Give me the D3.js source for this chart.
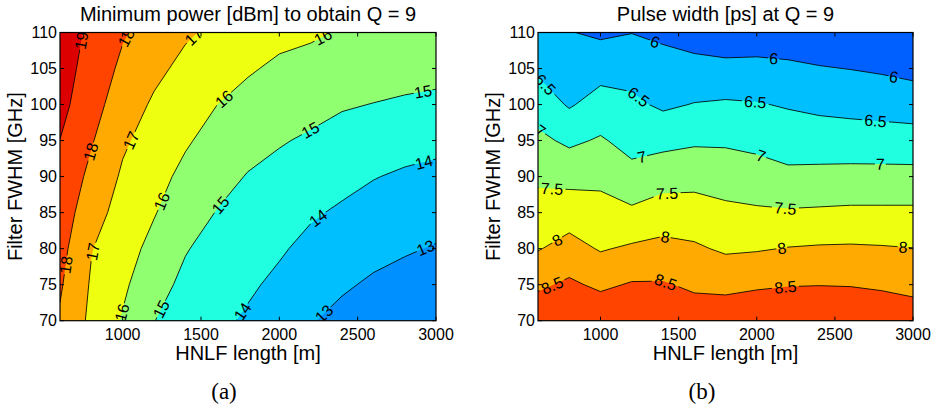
<!DOCTYPE html>
<html><head><meta charset="utf-8">
<script src="https://cdn.jsdelivr.net/npm/d3@7"></script>
<style>
body{margin:0;background:#fff;}
svg text{font-family:"Liberation Sans",Arial,Helvetica,sans-serif;fill:#000;}
</style></head><body>
<svg id="chart" width="940" height="411"></svg>
<script>
// ---------- data ----------
const lengths = [600,800,1000,1200,1400,1600,1800,2000,2200,2400,2600,2800,3000]; // HNLF length [m]
const fwhm = [70,75,80,85,90,95,100,105,110]; // filter FWHM [GHz]

const powerLevels = [13,14,15,16,17,18,19];
const powerColors = ["#0090ff","#00bfff","#20ffdf","#90ff70","#efff10","#ffaa00","#ff4400","#dd0000"];
// rows: FWHM 70 .. 110, columns: lengths
const powerGrid = [
 [17.89,16.79,15.92,15.02,14.55,14.22,13.87,13.48,13.06,12.74,12.48,12.30,12.12],
 [18.11,16.90,16.17,15.36,14.78,14.40,14.14,13.80,13.41,13.12,12.87,12.69,12.53],
 [18.33,17.04,16.40,15.72,15.06,14.66,14.41,14.11,13.75,13.50,13.26,13.09,12.94],
 [18.55,17.40,16.63,16.06,15.41,14.97,14.68,14.43,14.11,13.87,13.64,13.48,13.35],
 [18.77,17.75,16.87,16.33,15.76,15.31,14.95,14.74,14.50,14.27,14.04,13.87,13.77],
 [18.99,18.08,17.14,16.61,16.11,15.66,15.31,15.07,14.88,14.67,14.51,14.36,14.24],
 [19.28,18.40,17.46,16.88,16.44,16.01,15.69,15.45,15.28,15.08,14.98,14.88,14.80],
 [19.39,18.65,17.79,17.21,16.78,16.42,16.10,15.83,15.69,15.49,15.40,15.33,15.27],
 [19.52,18.80,18.10,17.59,17.11,16.83,16.61,16.25,16.13,15.93,15.80,15.74,15.68]
];

const widthLevels = [6,6.5,7,7.5,8,8.5];
const widthColors = ["#0060ff","#00bfff","#20ffdf","#90ff70","#efff10","#ffaa00","#ff4400"];
const widthGrid = [
 [8.85,8.90,8.88,8.95,8.94,8.77,8.80,8.85,8.85,8.86,8.85,8.80,8.75],
 [8.42,8.58,8.41,8.54,8.54,8.42,8.38,8.44,8.48,8.49,8.48,8.44,8.37],
 [7.97,8.18,7.96,8.07,8.14,8.07,7.93,7.96,8.02,8.05,8.06,8.04,8.01],
 [7.70,7.77,7.68,7.59,7.73,7.71,7.61,7.57,7.55,7.57,7.59,7.59,7.59],
 [7.41,7.35,7.38,7.15,7.30,7.34,7.28,7.21,7.11,7.13,7.15,7.15,7.15],
 [7.11,6.91,7.05,6.84,6.86,6.93,6.93,6.87,6.77,6.75,6.73,6.72,6.70],
 [6.77,6.45,6.70,6.60,6.42,6.52,6.56,6.53,6.46,6.39,6.35,6.31,6.27],
 [6.42,6.24,6.32,6.32,6.18,6.15,6.13,6.13,6.09,6.03,5.99,5.94,5.86],
 [6.07,6.02,5.92,5.99,5.91,5.79,5.69,5.73,5.72,5.67,5.63,5.56,5.46]
];

// contour label anchors (value, approx. length, approx. FWHM)
const powerLabels = [
 {v:19,x:760,y:108.8},{v:18,x:1030,y:109.2},{v:17,x:1451,y:109.5},{v:16,x:2281,y:109.3},
 {v:16,x:1642,y:100.9},{v:17,x:1047,y:95.1},{v:18,x:791,y:93.5},{v:15,x:2919,y:101.6},
 {v:15,x:2196,y:96.5},{v:14,x:2919,y:92.3},{v:16,x:1259,y:86.5},{v:15,x:1621,y:86.1},
 {v:17,x:802,y:79.6},{v:18,x:653,y:77.7},{v:16,x:983,y:71.2},{v:15,x:1238,y:71.7},
 {v:14,x:1770,y:71.2},{v:14,x:2249,y:84.2},{v:13,x:2930,y:80.3},{v:13,x:2275,y:71.2}
];
const widthLabels = [
 {v:6,x:1351,y:108.8},{v:6,x:2108,y:106.2},{v:6,x:2876,y:103.7},
 {v:6.5,x:647,y:102.8},{v:6.5,x:1245,y:101.1},{v:6.5,x:1991,y:100.4},{v:6.5,x:2759,y:97.4},
 {v:7,x:626,y:96.7},{v:7,x:1266,y:92.6},{v:7,x:2023,y:92.6},{v:7,x:2791,y:91.7},
 {v:7.5,x:690,y:88.4},{v:7.5,x:1426,y:87.7},{v:7.5,x:2183,y:85.6},
 {v:8,x:722,y:81.2},{v:8,x:1415,y:81.7},{v:8,x:2162,y:79.8},{v:8,x:2936,y:80.1},
 {v:8.5,x:690,y:74.95},{v:8.5,x:1415,y:75.2},{v:8.5,x:2183,y:74.7}
];

const xTicks = [1000,1500,2000,2500,3000];
const yTicks = [70,75,80,85,90,95,100,105,110];

const panels = [
 {id:"a", title:"Minimum power [dBm] to obtain Q = 9", caption:"(a)", grid:powerGrid, levels:powerLevels, colors:powerColors, labels:powerLabels,
  left:60, right:436, top:32.5, bottom:320.7, capX:224},
 {id:"b", title:"Pulse width [ps] at Q = 9", caption:"(b)", grid:widthGrid, levels:widthLevels, colors:widthColors, labels:widthLabels,
  left:538, right:913, top:32.5, bottom:320.7, capX:702}
];

// ---------- drawing ----------
const svg = d3.select("#chart");
const defs = svg.append("defs");

function drawPanel(p){
  const x = d3.scaleLinear().domain([lengths[0], lengths[lengths.length-1]]).range([p.left, p.right]);
  const y = d3.scaleLinear().domain([fwhm[0], fwhm[fwhm.length-1]]).range([p.bottom, p.top]);
  const nx = lengths.length, ny = fwhm.length;
  const values = p.grid.flat();
  const gxToData = gx => { const t = gx - 0.5; const i = Math.max(0, Math.min(nx-2, Math.floor(t))); return lengths[i] + (t - i)*(lengths[i+1]-lengths[i]); };
  const gyToData = gy => { const t = gy - 0.5; const j = Math.max(0, Math.min(ny-2, Math.floor(t))); return fwhm[j] + (t - j)*(fwhm[j+1]-fwhm[j]); };
  const toPx = (gx, gy) => [x(gxToData(gx)), y(gyToData(gy))];
  const proj = d3.geoTransform({point(a,b){ const q = toPx(a,b); this.stream.point(q[0], q[1]); }});
  const path = d3.geoPath(proj);
  const contours = d3.contours().size([nx, ny]).thresholds(p.levels)(values);

  const clipId = "clip-" + p.id;
  defs.append("clipPath").attr("id", clipId).append("rect")
    .attr("x", p.left).attr("y", p.top).attr("width", p.right - p.left).attr("height", p.bottom - p.top);

  const g = svg.append("g");
  const plot = g.append("g").attr("clip-path", `url(#${clipId})`);
  plot.append("rect").attr("x", p.left).attr("y", p.top).attr("width", p.right-p.left).attr("height", p.bottom-p.top)
    .attr("fill", p.colors[0]);
  plot.selectAll("path.fill").data(contours).join("path").attr("class","fill")
    .attr("d", path).attr("fill", (d,i) => p.colors[i+1]).attr("stroke","none");

  const fs = 16;
  const placed = [];
  p.labels.forEach(L => {
    const k = p.levels.indexOf(L.v);
    const c = contours[k];
    const P = [x(L.x), y(L.y)];
    let best = null;
    c.coordinates.forEach(poly => poly.forEach(ring => {
      for (let i = 0; i < ring.length - 1; i++) {
        const a = toPx(ring[i][0], ring[i][1]), b = toPx(ring[i+1][0], ring[i+1][1]);
        const inside = q => q[0] >= p.left-0.5 && q[0] <= p.right+0.5 && q[1] >= p.top-0.5 && q[1] <= p.bottom+0.5;
        if (!inside(a) || !inside(b)) continue;
        const dx = b[0]-a[0], dy = b[1]-a[1], l2 = dx*dx+dy*dy;
        if (l2 < 1e-9) continue;
        let t = ((P[0]-a[0])*dx + (P[1]-a[1])*dy)/l2; t = Math.max(0, Math.min(1, t));
        const q = [a[0]+t*dx, a[1]+t*dy];
        const dist = Math.hypot(q[0]-P[0], q[1]-P[1]);
        if (!best || dist < best.dist) best = {dist, q, ang: Math.atan2(dy, dx)*180/Math.PI};
      }
    }));
    if (!best) return;
    let ang = best.ang;
    if (ang > 90) ang -= 180;
    if (ang <= -90) ang += 180;
    placed.push({text: String(L.v), px: best.q[0], py: best.q[1], ang});
  });

  const maskId = "mask-" + p.id;
  const mask = defs.append("mask").attr("id", maskId).attr("maskUnits","userSpaceOnUse")
    .attr("x", 0).attr("y", 0).attr("width", 940).attr("height", 411);
  mask.append("rect").attr("x",0).attr("y",0).attr("width",940).attr("height",411).attr("fill","#fff");
  placed.forEach(d => {
    const w = d.text.length * fs * 0.5 + 3, h = fs * 0.75;
    mask.append("rect").attr("x", -w/2).attr("y", -h/2).attr("width", w).attr("height", h).attr("fill","#000")
      .attr("transform", `translate(${d.px},${d.py}) rotate(${d.ang})`);
  });

  const lines = plot.append("g").attr("mask", `url(#${maskId})`);
  lines.selectAll("path").data(contours).join("path")
    .attr("d", path).attr("fill","none").attr("stroke","#000").attr("stroke-width",0.85).attr("stroke-linejoin","round");

  plot.selectAll("text.clab").data(placed).join("text").attr("class","clab")
    .attr("transform", d => `translate(${d.px},${d.py}) rotate(${d.ang})`)
    .attr("text-anchor","middle").attr("dy","0.36em").attr("font-size", fs).text(d => d.text);

  // frame & ticks
  g.append("rect").attr("x", p.left).attr("y", p.top).attr("width", p.right-p.left).attr("height", p.bottom-p.top)
    .attr("fill","none").attr("stroke","#000").attr("stroke-width",1.2);
  const tl = 4;
  xTicks.forEach(v => {
    g.append("line").attr("x1", x(v)).attr("x2", x(v)).attr("y1", p.bottom).attr("y2", p.bottom - tl).attr("stroke","#000");
    g.append("line").attr("x1", x(v)).attr("x2", x(v)).attr("y1", p.top).attr("y2", p.top + tl).attr("stroke","#000");
    g.append("text").attr("x", x(v)).attr("y", 340).attr("text-anchor","middle").attr("font-size",16).text(v);
  });
  yTicks.forEach(v => {
    g.append("line").attr("x1", p.left).attr("x2", p.left + tl).attr("y1", y(v)).attr("y2", y(v)).attr("stroke","#000");
    g.append("line").attr("x1", p.right).attr("x2", p.right - tl).attr("y1", y(v)).attr("y2", y(v)).attr("stroke","#000");
    g.append("text").attr("x", p.left - 3).attr("y", y(v)).attr("dy","0.36em").attr("text-anchor","end").attr("font-size",16).text(v);
  });

  const cx = (p.left + p.right)/2, cy = (p.top + p.bottom)/2;
  g.append("text").attr("x", cx).attr("y", 21).attr("text-anchor","middle").attr("font-size",20).text(p.title);
  g.append("text").attr("x", cx).attr("y", 360).attr("text-anchor","middle").attr("font-size",20).text("HNLF length [m]");
  g.append("text").attr("transform", `translate(${p.left - 45},${cy}) rotate(-90)`).attr("dy","0.36em")
    .attr("text-anchor","middle").attr("font-size",20).text("Filter FWHM [GHz]");
  g.append("text").attr("x", p.capX).attr("y", 399).attr("text-anchor","middle").attr("font-size",23)
    .style("font-family","'Liberation Serif','DejaVu Serif',serif").text(p.caption);
}

panels.forEach(drawPanel);
</script>
</body></html>
